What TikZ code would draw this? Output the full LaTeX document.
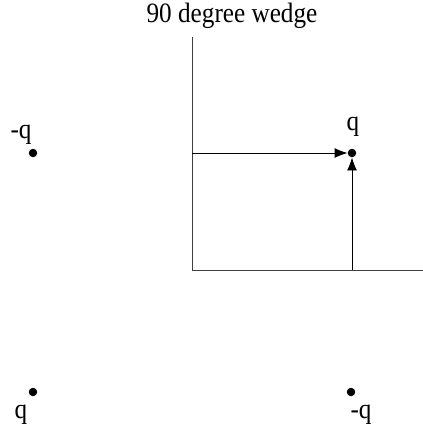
\documentclass[tikz,border=0pt]{standalone}
\usepackage{fontspec}
\setmainfont[FakeStretch=0.9]{Liberation Serif}
\usetikzlibrary{arrows.meta}
\begin{document}
\begin{tikzpicture}[x=1bp,y=-1bp,
  charge/.style={circle,fill=black,inner sep=0pt,minimum size=8.5bp},
  lbl/.style={font=\fontsize{28bp}{30bp}\selectfont,inner sep=0pt,anchor=base},
  axis/.style={line width=0.9bp,draw=black!75},
  field/.style={line width=0.9bp,-{Latex[length=13bp,width=10bp]}}]
\useasboundingbox (0,0) rectangle (423,431);
\node[lbl] (title) at (232,22) {90 degree wedge};
% axes
\coordinate (top) at (192,37);
\coordinate (origin) at (192,270);
\coordinate (right) at (423,270);
\draw[axis] (top) -- (origin) -- (right);
% charges
\node[charge] (q1) at (352,153) {};
\node[charge] (q2) at (33,153) {};
\node[charge] (q3) at (33,392) {};
\node[charge] (q4) at (351,392) {};
\node[lbl] (l1) at (353,130) {q};
\node[lbl] (l2) at (21,138) {-q};
\node[lbl] (l3) at (21,418) {q};
\node[lbl] (l4) at (361,418) {-q};
% field arrows
\coordinate (hstart) at (192,153);
\coordinate (vstart) at (352,270);
\draw[field] (hstart) -- (q1.west);
\draw[field] (vstart) -- (q1.south);
\end{tikzpicture}
\end{document}
